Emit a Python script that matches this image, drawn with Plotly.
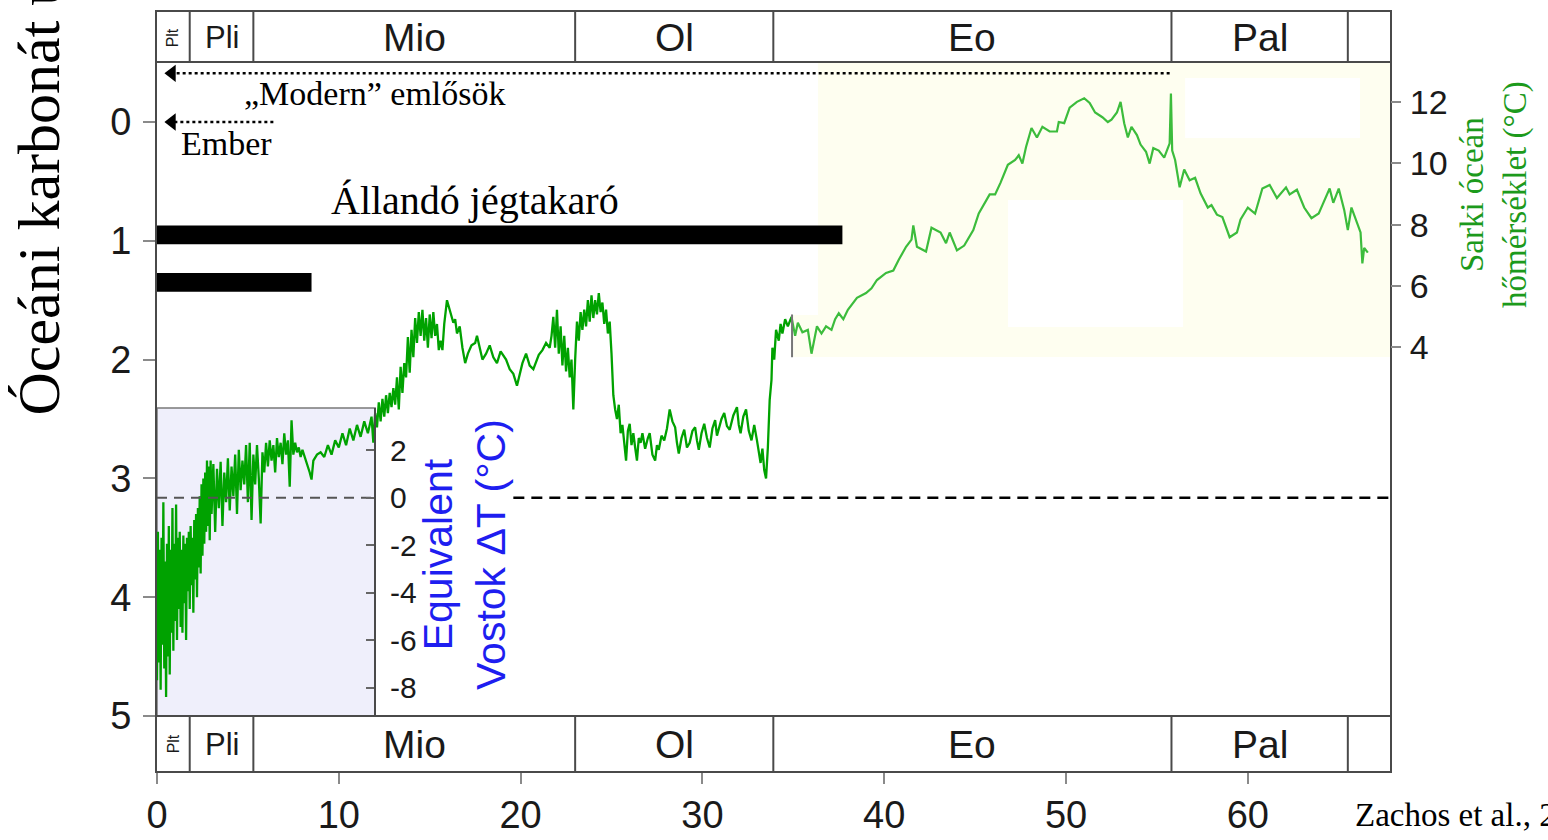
import plotly.graph_objects as go

# ---------------- geological time scale (Ma) ----------------
epoch_names = ["Plt", "Pli", "Mio", "Ol", "Eo", "Pal"]
epoch_bounds = [0.0, 1.8, 5.3, 23.0, 33.9, 55.8, 65.5]

# ---------------- axis ticks ----------------
age_ticks = [0, 10, 20, 30, 40, 50, 60]
d18o_ticks = [0, 1, 2, 3, 4, 5]
polar_temp_ticks = [4, 6, 8, 10, 12]
vostok_ticks = [-8, -6, -4, -2, 0, 2]

# ---------------- benthic d18O record: (age Ma, d18O permil) ----------------
plio_pleistocene = [
    (0.00, 4.70), (0.05, 3.45), (0.10, 4.55), (0.15, 3.60), (0.20, 4.78), (0.25, 3.50), (0.30, 4.40), (0.35, 3.20),
    (0.40, 4.60), (0.45, 3.70), (0.50, 4.84), (0.55, 3.55), (0.60, 4.50), (0.65, 3.40), (0.70, 4.65), (0.75, 3.60),
    (0.80, 4.30), (0.85, 3.25), (0.90, 4.45), (0.95, 3.55), (1.00, 4.20), (1.05, 3.22), (1.10, 4.36), (1.15, 3.50),
    (1.20, 4.10), (1.25, 3.45), (1.30, 4.25), (1.35, 3.60), (1.40, 4.30), (1.45, 3.48), (1.50, 4.05), (1.55, 3.55),
    (1.60, 4.36), (1.65, 3.50), (1.70, 3.95), (1.75, 3.45), (1.80, 4.10), (1.85, 3.40), (1.90, 3.90), (1.95, 3.50),
    (2.00, 4.13), (2.05, 3.35), (2.10, 3.85), (2.15, 3.30), (2.20, 4.00), (2.25, 3.25), (2.30, 3.75), (2.35, 3.15),
    (2.40, 3.80), (2.45, 3.05), (2.50, 3.65), (2.55, 3.00), (2.60, 3.55), (2.65, 2.95), (2.70, 3.45), (2.75, 2.85),
    (2.80, 3.40), (2.85, 2.90), (2.90, 3.52), (2.95, 2.85), (3.00, 3.30), (3.10, 2.88), (3.20, 3.45), (3.30, 2.92),
    (3.40, 3.25), (3.50, 2.86), (3.60, 3.40), (3.70, 2.95), (3.80, 3.20), (3.90, 2.83), (4.00, 3.27), (4.10, 2.90),
    (4.20, 3.15), (4.30, 2.80), (4.40, 3.30), (4.50, 2.76), (4.60, 3.10), (4.70, 2.85), (4.80, 3.05), (4.90, 2.72),
    (5.00, 3.20), (5.10, 2.70), (5.20, 3.35),
]

miocene = [
    (5.30, 2.80), (5.40, 3.05), (5.50, 2.72), (5.60, 3.00), (5.70, 3.38), (5.80, 2.78), (5.90, 2.95), (6.00, 2.70),
    (6.10, 2.90), (6.20, 2.68), (6.30, 2.85), (6.40, 2.72), (6.50, 2.95), (6.60, 2.66), (6.70, 2.82), (6.80, 2.70),
    (6.90, 2.88), (7.00, 2.62), (7.10, 2.80), (7.20, 2.68), (7.30, 3.07), (7.40, 2.51), (7.50, 2.80), (7.60, 2.70),
    (7.70, 2.78), (7.80, 2.74), (7.90, 2.82), (8.00, 2.76), (8.20, 2.85), (8.40, 2.95), (8.50, 3.01), (8.60, 2.85),
    (8.80, 2.80), (9.00, 2.78), (9.20, 2.82), (9.40, 2.72), (9.60, 2.80), (9.80, 2.68), (10.00, 2.74), (10.20, 2.62),
    (10.40, 2.72), (10.60, 2.58), (10.80, 2.68), (11.00, 2.55), (11.20, 2.65), (11.40, 2.52), (11.60, 2.62),
    (11.80, 2.48), (11.90, 2.70), (12.00, 2.45), (12.10, 2.57), (12.20, 2.36), (12.30, 2.52), (12.40, 2.33),
    (12.50, 2.48), (12.60, 2.30), (12.70, 2.45), (12.80, 2.28), (12.90, 2.40), (13.00, 2.24), (13.10, 2.38),
    (13.20, 2.15), (13.30, 2.42), (13.40, 2.06), (13.50, 2.28), (13.60, 2.03), (13.70, 2.15), (13.80, 1.81),
    (13.90, 2.11), (14.00, 1.75), (14.10, 1.98), (14.20, 1.65), (14.30, 1.86), (14.40, 1.60), (14.50, 1.80),
    (14.60, 1.58), (14.70, 1.84), (14.80, 1.65), (14.90, 1.90), (15.00, 1.62), (15.10, 1.82), (15.20, 1.60),
    (15.30, 1.80), (15.40, 1.70), (15.50, 1.92), (15.60, 1.84), (15.70, 1.92), (15.80, 1.70), (15.95, 1.50),
    (16.10, 1.58), (16.30, 1.69), (16.40, 1.66), (16.50, 1.78), (16.65, 1.72), (16.80, 1.90), (16.95, 2.03),
    (17.10, 1.95), (17.30, 1.88), (17.50, 1.86), (17.60, 1.80), (17.80, 1.92), (17.90, 2.00), (18.10, 1.95),
    (18.30, 1.88), (18.50, 1.98), (18.70, 2.03), (18.90, 1.93), (19.00, 1.95), (19.20, 2.00), (19.40, 2.08),
    (19.60, 2.12), (19.80, 2.22), (20.00, 2.10), (20.10, 2.03), (20.30, 1.95), (20.50, 2.05), (20.70, 2.08),
    (20.90, 2.00), (21.00, 1.96), (21.20, 1.92), (21.40, 1.86), (21.60, 1.90), (21.70, 1.80), (21.80, 1.64),
    (21.90, 1.90), (22.00, 1.58), (22.10, 1.95), (22.20, 1.72), (22.30, 2.05), (22.40, 1.80), (22.50, 2.10),
    (22.60, 1.90), (22.70, 2.15), (22.80, 2.00), (22.90, 2.42), (23.00, 2.00),
]

oligocene = [
    (23.10, 1.68), (23.20, 1.84), (23.30, 1.60), (23.40, 1.75), (23.50, 1.58), (23.60, 1.72), (23.70, 1.50),
    (23.80, 1.68), (23.90, 1.46), (24.00, 1.65), (24.10, 1.50), (24.20, 1.62), (24.30, 1.44), (24.40, 1.60),
    (24.50, 1.52), (24.60, 1.70), (24.70, 1.58), (24.80, 1.78), (24.90, 1.68), (25.00, 1.95), (25.10, 2.30),
    (25.20, 2.42), (25.30, 2.50), (25.40, 2.38), (25.50, 2.62), (25.60, 2.55), (25.70, 2.70), (25.80, 2.85),
    (25.90, 2.60), (26.00, 2.54), (26.10, 2.72), (26.20, 2.62), (26.30, 2.74), (26.40, 2.85), (26.50, 2.66),
    (26.60, 2.70), (26.70, 2.62), (26.85, 2.75), (27.00, 2.66), (27.10, 2.62), (27.25, 2.80), (27.40, 2.85),
    (27.50, 2.72), (27.60, 2.76), (27.75, 2.64), (27.90, 2.68), (28.05, 2.58), (28.20, 2.42), (28.35, 2.52),
    (28.50, 2.57), (28.60, 2.70), (28.70, 2.79), (28.85, 2.66), (29.00, 2.59), (29.15, 2.74), (29.30, 2.70),
    (29.45, 2.60), (29.60, 2.57), (29.70, 2.68), (29.80, 2.76), (29.95, 2.62), (30.10, 2.54), (30.25, 2.66),
    (30.40, 2.74), (30.55, 2.58), (30.70, 2.51), (30.80, 2.64), (30.90, 2.59), (31.05, 2.50), (31.20, 2.45),
    (31.35, 2.56), (31.50, 2.59), (31.70, 2.47), (31.90, 2.40), (32.00, 2.55), (32.10, 2.62), (32.25, 2.48),
    (32.40, 2.42), (32.55, 2.60), (32.70, 2.68), (32.85, 2.55), (33.00, 2.68), (33.10, 2.78), (33.20, 2.87),
    (33.30, 2.75), (33.40, 2.93), (33.50, 3.00), (33.60, 2.74), (33.70, 2.34), (33.80, 2.17), (33.85, 1.90),
    (33.95, 2.00), (34.05, 1.75), (34.20, 1.84), (34.30, 1.70), (34.40, 1.78), (34.55, 1.66), (34.70, 1.72),
    (34.90, 1.64),
]

eocene_paleocene = [
    (34.90, 1.64), (35.10, 1.80), (35.25, 1.69), (35.50, 1.77), (35.80, 1.75), (36.00, 1.95), (36.30, 1.72),
    (36.55, 1.78), (36.80, 1.72), (37.10, 1.75), (37.30, 1.66), (37.50, 1.61), (37.75, 1.66), (38.00, 1.58),
    (38.50, 1.48), (39.00, 1.44), (39.30, 1.40), (39.60, 1.33), (40.10, 1.27), (40.50, 1.25), (40.80, 1.16),
    (41.20, 1.05), (41.50, 0.99), (41.60, 0.87), (41.80, 1.05), (42.30, 1.09), (42.60, 0.89), (43.10, 0.93),
    (43.40, 1.02), (43.60, 0.93), (44.00, 1.08), (44.40, 1.04), (44.90, 0.91), (45.20, 0.77), (45.80, 0.61),
    (46.10, 0.61), (46.40, 0.51), (46.80, 0.36), (47.20, 0.32), (47.40, 0.28), (47.60, 0.35), (47.80, 0.21),
    (48.10, 0.05), (48.40, 0.13), (48.70, 0.04), (49.10, 0.08), (49.50, 0.08), (49.60, 0.00), (49.90, 0.01),
    (50.20, -0.12), (50.60, -0.17), (51.00, -0.20), (51.30, -0.16), (51.60, -0.08), (52.00, -0.04), (52.30, 0.00),
    (52.50, -0.02), (52.80, -0.08), (53.00, -0.17), (53.20, 0.01), (53.40, 0.13), (53.60, 0.04), (53.90, 0.11),
    (54.10, 0.19), (54.40, 0.25), (54.60, 0.35), (54.80, 0.22), (55.10, 0.24), (55.40, 0.30), (55.70, 0.18),
    (55.77, -0.24), (55.84, 0.24), (56.00, 0.32), (56.10, 0.40), (56.25, 0.55), (56.50, 0.40), (56.80, 0.49),
    (57.10, 0.47), (57.40, 0.60), (57.80, 0.72), (58.00, 0.70), (58.30, 0.78), (58.60, 0.80), (59.00, 0.97),
    (59.40, 0.93), (59.60, 0.82), (60.00, 0.72), (60.40, 0.77), (60.80, 0.56), (61.20, 0.53), (61.60, 0.64),
    (62.10, 0.55), (62.30, 0.61), (62.70, 0.57), (63.10, 0.72), (63.50, 0.81), (63.90, 0.77), (64.10, 0.70),
    (64.50, 0.56), (64.70, 0.68), (65.00, 0.56), (65.30, 0.74), (65.50, 0.91), (65.70, 0.72), (66.00, 0.85),
    (66.20, 0.93), (66.30, 1.19), (66.40, 1.06), (66.60, 1.10),
]

# ---------------- ice sheets (extent back in time, d18O level of the bar) ----------------
ice_sheet_end = [37.7, 8.5]
ice_sheet_level = [0.95, 1.35]
ice_sheet_label = "Állandó jégtakaró"

# ---------------- first appearances (arrow from age back to present) ----------------
appearance_labels = ["„Modern” emlősök", "Ember"]
appearance_age = [55.7, 6.4]
appearance_level = [-0.41, 0.0]

# ---------------- Vostok dT = 0 reference line segments (age span) ----------------
vostok_zero_box = [0.0, 12.0]
vostok_zero_open = [19.6, 67.8]

# ---------------- Eocene-Oligocene event tick ----------------
event_age = [34.93, 34.93]
event_d18o = [1.62, 1.98]

# ---------------- layout geometry ----------------
W, H = 1548, 840
L, R, T, B = 157, 158, 12, 69
PW, PH = W - L - R, H - T - B


def px_x(p):
    return (p - L) / PW


def px_y(p):
    return (H - B - p) / PH


SANS = "Liberation Sans, Arial, sans-serif"
SERIF = "Liberation Serif, Times New Roman, serif"
GREEN_DARK = "#00a200"
GREEN_LIGHT = "#3cbc3c"
FRAME = "#4a4a4a"
TICK = "#8a8a8a"
TXT = "#1a1a1a"

x_range = [0, 67.82]
y_range = [5.463, -0.926]
temp_range = [-9.80, 14.93]
vostok_range = [-9.19, 3.777]

band_top = px_y(62)
band_bot = px_y(716)

fig = go.Figure()

# background panels
shapes = [
    dict(type="rect", xref="x", yref="paper", x0=36.36, x1=x_range[1], y0=px_y(357), y1=band_top,
         fillcolor="#fefef0", line_width=0, layer="below"),
    dict(type="rect", xref="x", yref="paper", x0=35.0, x1=36.36, y0=px_y(357), y1=px_y(315),
         fillcolor="#fefef0", line_width=0, layer="below"),
    dict(type="rect", xref="x", yref="paper", x0=56.55, x1=66.17, y0=px_y(138), y1=px_y(78),
         fillcolor="white", line_width=0, layer="below"),
    dict(type="rect", xref="x", yref="paper", x0=46.81, x1=56.44, y0=px_y(327), y1=px_y(200),
         fillcolor="white", line_width=0, layer="below"),
    dict(type="rect", xref="x", yref="paper", x0=vostok_zero_box[0], x1=vostok_zero_box[1],
         y0=band_bot, y1=px_y(408), fillcolor="#efeffb", line=dict(color="#7a7a7a", width=1.5), layer="below"),
]

# epoch bands (top and bottom)
for yb0, yb1, edge in [(band_top, 1.0, band_top), (0.0, band_bot, band_bot)]:
    shapes.append(dict(type="line", xref="paper", yref="paper", x0=0, x1=1, y0=edge, y1=edge,
                       line=dict(color=FRAME, width=2)))
    for b in epoch_bounds[1:]:
        shapes.append(dict(type="line", xref="x", yref="paper", x0=b, x1=b, y0=yb0, y1=yb1,
                           line=dict(color=FRAME, width=2)))

# ice sheet bars
for end, lvl in zip(ice_sheet_end, ice_sheet_level):
    shapes.append(dict(type="rect", xref="x", yref="y", x0=0, x1=end, y0=lvl - 0.078, y1=lvl + 0.078,
                       fillcolor="black", line_width=0))

# d18O curve
dark = plio_pleistocene + miocene + oligocene
fig.add_trace(go.Scatter(x=[a for a, _ in dark], y=[v for _, v in dark], mode="lines",
                         line=dict(color=GREEN_DARK, width=2.3), hoverinfo="skip", showlegend=False))
fig.add_trace(go.Scatter(x=[a for a, _ in eocene_paleocene], y=[v for _, v in eocene_paleocene], mode="lines",
                         line=dict(color=GREEN_LIGHT, width=2.2), hoverinfo="skip", showlegend=False))
fig.add_trace(go.Scatter(x=event_age, y=event_d18o, mode="lines", line=dict(color="#777777", width=2),
                         hoverinfo="skip", showlegend=False))

# Vostok dT = 0 reference
fig.add_trace(go.Scatter(x=vostok_zero_box, y=[0, 0], yaxis="y3", mode="lines",
                         line=dict(color="#555555", width=2, dash="10px,7px"), hoverinfo="skip", showlegend=False))
fig.add_trace(go.Scatter(x=vostok_zero_open, y=[0, 0], yaxis="y3", mode="lines",
                         line=dict(color="black", width=2.5, dash="11px,7px"), hoverinfo="skip", showlegend=False))

# first appearance arrows
for age, lvl in zip(appearance_age, appearance_level):
    fig.add_trace(go.Scatter(x=[age, 0.95], y=[lvl, lvl], mode="lines",
                             line=dict(color="black", width=2.5, dash="dot"), hoverinfo="skip", showlegend=False))
    fig.add_trace(go.Scatter(x=[0.82], y=[lvl], mode="markers",
                             marker=dict(symbol="triangle-left", size=15, color="black"),
                             hoverinfo="skip", showlegend=False))

# carrier for the polar temperature axis
fig.add_trace(go.Scatter(x=[60], y=[8], yaxis="y2", mode="markers", marker=dict(opacity=0),
                         hoverinfo="skip", showlegend=False))

annotations = []
# epoch labels
for i, name in enumerate(epoch_names):
    mid = (epoch_bounds[i] + epoch_bounds[i + 1]) / 2
    if name == "Plt":
        size, angle = 16, -90
    elif name == "Pli":
        size, angle = 31, 0
    else:
        size, angle = 39, 0
    for yc in (px_y(38), px_y(744)):
        annotations.append(dict(x=mid, xref="x", y=yc, yref="paper", text=name, showarrow=False,
                                xanchor="center", yanchor="middle", textangle=angle,
                                font=dict(family=SANS, size=size, color=TXT)))

annotations += [
    dict(x=px_x(34), xref="paper", y=px_y(418), yref="paper", xanchor="center", yanchor="bottom",
         text="Óceáni karbonát üledék δ<sup>18</sup>O (‰)", textangle=-90, showarrow=False,
         font=dict(family=SERIF, size=60, color="black")),
    dict(x=px_x(1494), xref="paper", y=px_y(195), yref="paper", xanchor="center", yanchor="middle",
         text="Sarki óceán<br>hőmérséklet (°C)", textangle=-90, showarrow=False,
         font=dict(family=SERIF, size=33, color="#1c9a1c")),
    dict(x=px_x(464), xref="paper", y=px_y(555), yref="paper", xanchor="center", yanchor="middle",
         text="Equivalent<br>Vostok ΔT (°C)", textangle=-90, showarrow=False,
         font=dict(family=SANS, size=41, color="#1e1ef0")),
    dict(x=17.5, xref="x", y=0.66, yref="y", xanchor="center", yanchor="middle", text=ice_sheet_label,
         showarrow=False, font=dict(family=SERIF, size=40, color="black")),
    dict(x=4.7, xref="x", y=-0.244, yref="y", xanchor="left", yanchor="middle", text=appearance_labels[0],
         showarrow=False, font=dict(family=SERIF, size=34, color="black")),
    dict(x=1.2, xref="x", y=0.18, yref="y", xanchor="left", yanchor="middle", text=appearance_labels[1],
         showarrow=False, font=dict(family=SERIF, size=34, color="black")),
    dict(x=px_x(1353), xref="paper", y=px_y(815), yref="paper", xanchor="left", yanchor="middle",
         text="Zachos et al., 2001", showarrow=False, font=dict(family=SERIF, size=33, color="black")),
]

fig.update_layout(
    width=W, height=H,
    margin=dict(l=L, r=R, t=T, b=B, pad=0, autoexpand=False),
    paper_bgcolor="white",
    plot_bgcolor="rgba(0,0,0,0)",
    showlegend=False,
    shapes=shapes,
    annotations=annotations,
    xaxis=dict(range=x_range, tickvals=age_ticks, ticks="outside", ticklen=11, tickwidth=2, tickcolor=TICK,
               showline=True, linecolor=FRAME, linewidth=2, mirror=True, showgrid=False, zeroline=False,
               automargin=False, tickfont=dict(family=SANS, size=38, color=TXT), ticklabelstandoff=-2),
    yaxis=dict(range=y_range, tickvals=d18o_ticks, ticks="outside", ticklen=12, tickwidth=2, tickcolor=TICK,
               showline=True, linecolor=FRAME, linewidth=2, mirror=True, showgrid=False, zeroline=False,
               automargin=False, tickfont=dict(family=SANS, size=38, color=TXT), ticklabelstandoff=4),
    yaxis2=dict(overlaying="y", side="right", range=temp_range, tickvals=polar_temp_ticks, ticks="outside",
                ticklen=10, tickwidth=2, tickcolor=TICK, showline=False, showgrid=False, zeroline=False,
                automargin=False, tickfont=dict(family=SANS, size=34, color=TXT), ticklabelstandoff=2),
    yaxis3=dict(anchor="free", position=px_x(375), side="right", domain=[band_bot, px_y(408)],
                range=vostok_range, tickvals=vostok_ticks, ticktext=[str(v) for v in vostok_ticks],
                ticks="inside", ticklen=8, tickwidth=2,
                tickcolor="#666666", showline=True, linecolor=FRAME, linewidth=2, showgrid=False,
                zeroline=False, automargin=False, tickfont=dict(family=SANS, size=30, color=TXT),
                ticklabelstandoff=8),
)

fig.write_html("out.html")
